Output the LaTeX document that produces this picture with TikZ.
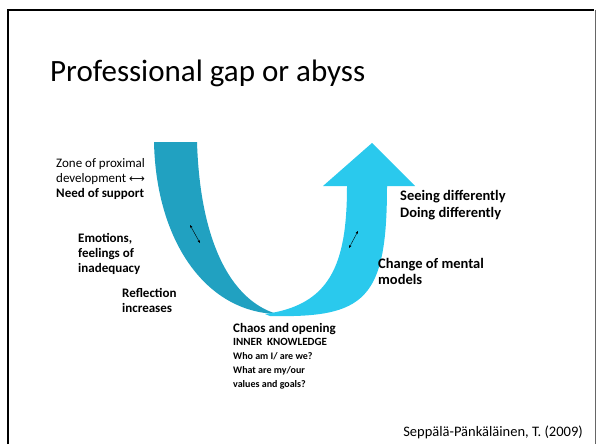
\documentclass[tikz,border=0pt]{standalone}
\usepackage{fontspec}
\setmainfont{Carlito}
\newfontfamily\symfont{DejaVu Sans}
\usetikzlibrary{arrows.meta,positioning}
\definecolor{bandDark}{RGB}{33,161,193}
\definecolor{bandLight}{RGB}{42,201,237}

\begin{document}
\begin{tikzpicture}[x=1pt,y=-1pt,
  note/.style={inner sep=0pt,align=left,font=\fontsize{13}{15.3}\selectfont},
  notebf/.style={note,font=\fontsize{13}{15.3}\selectfont\bfseries},
  notebig/.style={note,font=\fontsize{14.5}{16.5}\selectfont\bfseries},
  twoway/.style={{Stealth[length=3pt,width=2.4pt]}-{Stealth[length=3pt,width=2.4pt]},line width=0.4pt}]
\useasboundingbox (0,0) rectangle (596,444);
% slide frame
\draw[line width=2pt] (8,444) -- (8,10) -- (594,10);
\draw[black!60,line width=0.8pt] (595,10) -- (595,444);
\node[anchor=base west,inner sep=0pt,font=\fontsize{31}{36}\selectfont] (title) at (50,81) {Professional gap or abyss};
% going down
\fill[bandDark] (154,142) .. controls (156,240) and (205,312) .. (277,314)
  .. controls (230,300) and (200,240) .. (197,142) -- cycle;
% coming up
\fill[bandLight] (270,316) .. controls (365,318) and (387,300) .. (387,186)
  -- (415,186) -- (372,143) -- (323,186) -- (347,186)
  .. controls (347,265) and (330,305) .. (265,314) -- cycle;
\coordinate (d1) at (190,225);
\coordinate (d2) at (200,243);
\draw[twoway] (d1) -- (d2);
\coordinate (u1) at (358,231);
\coordinate (u2) at (349,248);
\draw[twoway] (u1) -- (u2);
% labels
\node[note,anchor=west] (zone) at (56,179) {Zone of proximal\\development {\symfont\fontsize{11}{15}\selectfont ⟷}\\\textbf{Need of support}};
\node[notebf,anchor=west] (emo) at (78,254) {Emotions,\\feelings of\\inadequacy};
\node[notebf,anchor=west] (refl) at (122,300.5) {Reflection\\increases};
\node[notebf,anchor=west] (chaos) at (233,329) {Chaos and opening};
\node[note,font=\fontsize{10}{14}\selectfont\bfseries,anchor=west] (inner) at (233,364) {{\fontsize{11}{14}\selectfont INNER\ \ KNOWLEDGE}\\Who am I/ are we?\\What are my/our\\values and goals?};
\node[notebig,anchor=west] (seeing) at (400,205) {Seeing differently\\Doing differently};
\node[notebig,anchor=west] (change) at (378,271.5) {Change of mental\\models};
\node[note,font=\fontsize{14.5}{16}\selectfont,anchor=east] (cite) at (583,432) {Seppälä-Pänkäläinen, T. (2009)};
\end{tikzpicture}
\end{document}
